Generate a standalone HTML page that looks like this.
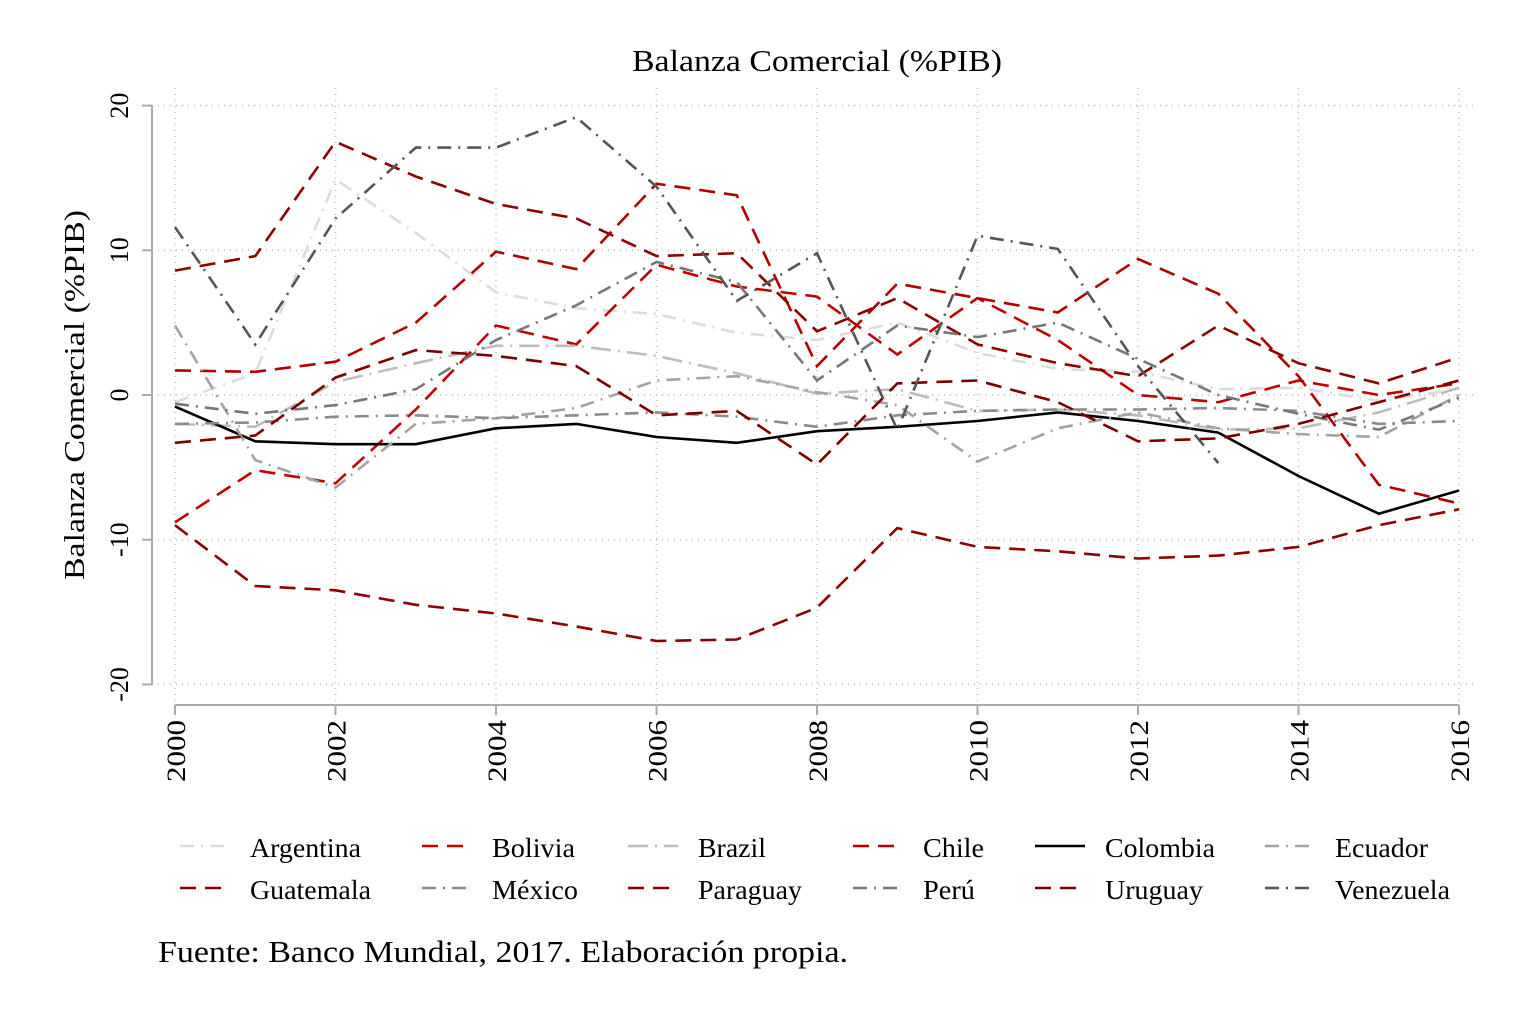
<!DOCTYPE html>
<html><head><meta charset="utf-8"><style>
body{margin:0;background:#fff}
svg{display:block;font-family:"Liberation Serif",serif}
</style></head><body>
<svg id="c" width="1518" height="1012">
<text x="632" y="71" font-size="31" textLength="370" lengthAdjust="spacingAndGlyphs">Balanza Comercial (%PIB)</text>
<text transform="translate(84,395) rotate(-90)" font-size="29" text-anchor="middle" textLength="370" lengthAdjust="spacingAndGlyphs">Balanza Comercial (%PIB)</text>
<text x="158" y="962" font-size="31" textLength="690" lengthAdjust="spacingAndGlyphs">Fuente: Banco Mundial, 2017. Elaboración propia.</text>
<g id="grid"></g><g id="axes"></g><g id="series"></g><g id="legend"></g>
</svg>
<script>
const years=[2000,2001,2002,2003,2004,2005,2006,2007,2008,2009,2010,2011,2012,2013,2014,2015,2016];
const yTicks=[20,10,0,-10,-20];
const xTicks=[2000,2002,2004,2006,2008,2010,2012,2014,2016];
const countries=["Argentina","Bolivia","Brazil","Chile","Colombia","Ecuador","Guatemala","México","Paraguay","Perú","Uruguay","Venezuela"];
const argentina=[-0.5,1.5,14.9,11.2,7.1,6.0,5.6,4.3,3.8,5.0,2.9,1.8,1.6,0.4,0.5,-0.4,0.4];
const bolivia=[-8.8,-5.2,-6.1,-1.0,4.8,3.5,9.0,7.5,6.8,2.8,6.7,3.8,0.0,-0.5,1.0,0.0,0.8];
const brazil=[-2.0,-2.2,0.9,2.2,3.4,3.4,2.7,1.5,0.1,0.4,-1.1,-1.0,-1.4,-2.4,-2.3,-1.2,0.5];
const chile=[1.7,1.6,2.3,5.0,9.9,8.7,14.6,13.8,2.0,7.7,6.7,5.7,9.4,7.0,1.3,-6.2,-7.5];
const colombia=[-0.8,-3.2,-3.4,-3.4,-2.3,-2.0,-2.9,-3.3,-2.5,-2.2,-1.8,-1.2,-1.8,-2.6,-5.6,-8.2,-6.6];
const ecuador=[4.8,-4.5,-6.4,-2.0,-1.6,-0.9,1.0,1.3,0.2,-0.7,-4.6,-2.3,-1.2,-2.3,-2.7,-2.9,0.0];
const guatemala=[-9.0,-13.2,-13.5,-14.5,-15.1,-16.0,-17.0,-16.9,-14.7,-9.2,-10.5,-10.8,-11.3,-11.1,-10.5,-9.0,-7.9];
const mexico=[-2.0,-1.9,-1.5,-1.4,-1.6,-1.4,-1.2,-1.5,-2.2,-1.4,-1.1,-1.0,-1.0,-0.9,-1.1,-2.0,-1.8];
const paraguay=[8.6,9.6,17.5,15.1,13.2,12.2,9.6,9.8,4.4,6.7,3.5,2.2,1.3,4.8,2.2,0.8,2.6];
const peru=[-0.6,-1.3,-0.7,0.4,3.8,6.2,9.2,7.8,1.0,4.8,4.0,5.0,2.5,0.0,-1.3,-2.4,-0.2];
const uruguay=[-3.3,-2.8,1.2,3.1,2.7,2.0,-1.4,-1.1,-4.8,0.8,1.0,-0.5,-3.2,-3.0,-2.0,-0.5,1.0];
const venezuela=[11.6,3.5,12.2,17.1,17.1,19.2,14.4,6.5,9.8,-2.4,11.0,10.1,2.0,-4.7,null,null,null];
const values=[argentina,bolivia,brazil,chile,colombia,ecuador,guatemala,mexico,paraguay,peru,uruguay,venezuela];
const legendWidths=[111,83,68,61,110,93,121,86,104,52,98,115];
const styles=[
 {c:"#dcdcdc",d:"14,7,2,7"},{c:"#c00000",d:"16,9"},{c:"#bdbdbd",d:"20,7,2,7"},
 {c:"#b00000",d:"16,9"},{c:"#000",d:""},{c:"#a3a3a3",d:"14,7,2,7"},
 {c:"#8b0000",d:"16,9"},{c:"#8a8a8a",d:"14,7,2,7"},{c:"#8b0000",d:"16,9"},
 {c:"#777",d:"14,7,2,7"},{c:"#7a0000",d:"16,9"},{c:"#555",d:"14,7,2,7"}];
const X=y=>175+(y-2000)*(1459-175)/16;
const Y=v=>395-v*14.47;
const NS="http://www.w3.org/2000/svg";
function mk(t,a,p){const e=document.createElementNS(NS,t);for(const k in a)e.setAttribute(k,a[k]);p.appendChild(e);return e;}
const grid=document.getElementById('grid'),axes=document.getElementById('axes'),ser=document.getElementById('series'),leg=document.getElementById('legend');
yTicks.forEach(t=>{
 const g=mk('line',{x1:152,x2:1478,y1:Y(t),y2:Y(t),stroke:"#bbb","stroke-width":1.5,"stroke-dasharray":"1,5"},grid);
 
 
 const tk=mk('line',{x1:142,x2:152,y1:Y(t),y2:Y(t),stroke:"#aaa","stroke-width":2},axes);
 
 
 const lb=mk('text',{transform:`translate(128,${Y(t)}) rotate(-90)`,"font-size":26,"text-anchor":"middle"},axes);
 lb.textContent=t;
 
 
});
xTicks.forEach(t=>{
 const g=mk('line',{x1:X(t),x2:X(t),y1:88,y2:705,stroke:"#bbb","stroke-width":1.5,"stroke-dasharray":"1,5"},grid);
 
 
 const tk=mk('line',{x1:X(t),x2:X(t),y1:705,y2:715,stroke:"#aaa","stroke-width":2},axes);
 
 
 const lb=mk('text',{transform:`translate(${X(t)+10},720) rotate(-90)`,"font-size":26,"text-anchor":"end",textLength:62,lengthAdjust:"spacingAndGlyphs"},axes);
 lb.textContent=t;
 
 
});
const ya=mk('line',{x1:152,x2:152,y1:Y(20),y2:Y(-20),stroke:"#aaa","stroke-width":2},axes);


const xa=mk('line',{x1:X(2000),x2:X(2016),y1:705,y2:705,stroke:"#aaa","stroke-width":2},axes);


values.forEach((vals,i)=>{
 let d="",pen=false;
 vals.forEach((v,j)=>{if(v===null){pen=false;return;}d+=(pen?"L":"M")+X(years[j]).toFixed(1)+","+Y(v).toFixed(1);pen=true;});
 const p=mk('path',{d:d,fill:"none",stroke:styles[i].c,"stroke-width":2.6,"stroke-dasharray":styles[i].d,"stroke-linejoin":"miter"},ser);
 
 
});
const lx=[180,422,628,853,1035,1265];
countries.forEach((n,i)=>{
 const col=i%6,row=Math.floor(i/6),y=row?890:848;
 const g=mk('g',{},leg);
 
 
 mk('line',{x1:lx[col],x2:lx[col]+50,y1:y-2,y2:y-2,stroke:styles[i].c,"stroke-width":2.6,"stroke-dasharray":styles[i].d},g);
 const t=mk('text',{x:lx[col]+70,y:y+9,"font-size":27,textLength:legendWidths[i],lengthAdjust:"spacingAndGlyphs"},g);
 t.textContent=n;
});
</script>
</body></html>
